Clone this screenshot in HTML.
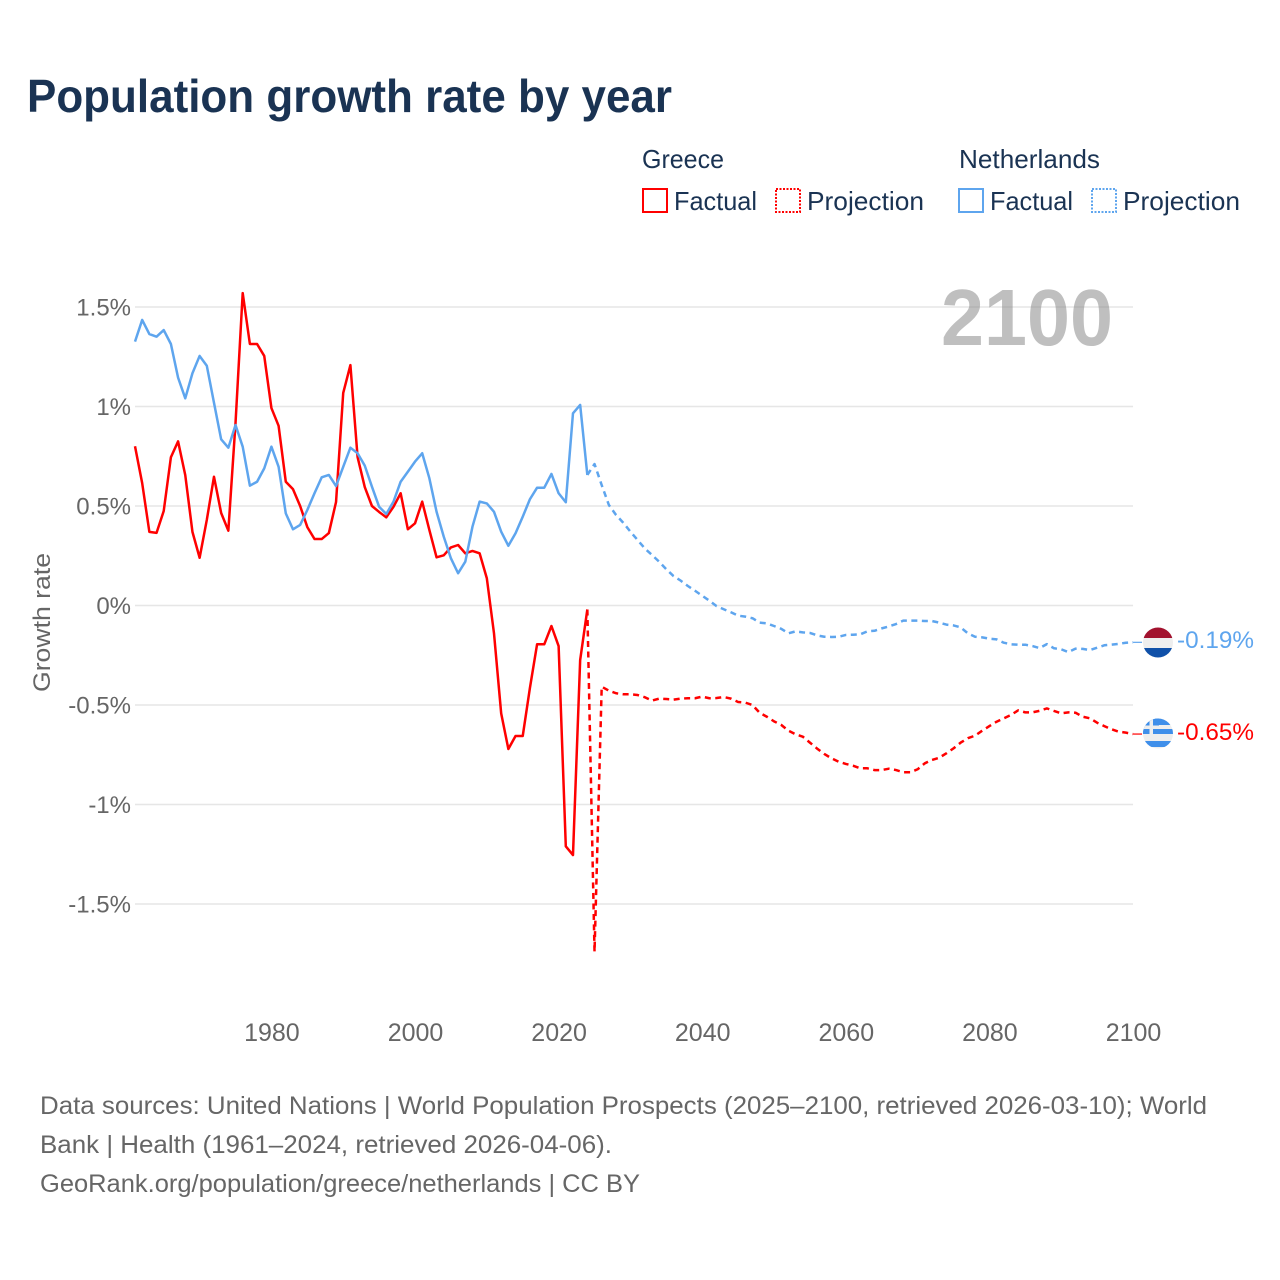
<!DOCTYPE html>
<html lang="en">
<head>
<meta charset="utf-8">
<title>Population growth rate by year</title>
<style>
html,body{margin:0;padding:0;background:#fff;}
svg{display:block;font-family:"Liberation Sans",sans-serif;}
</style>
</head>
<body>
<svg id="chart" xmlns="http://www.w3.org/2000/svg" width="1280" height="1280" viewBox="0 0 1280 1280">
  <rect x="0" y="0" width="1280" height="1280" fill="#ffffff"/>
  <text x="27" y="112" font-size="46" font-weight="700" fill="#1a3353" textLength="645" lengthAdjust="spacingAndGlyphs">Population growth rate by year</text>

  <g font-size="26" fill="#1a3353">
    <text x="642" y="168" textLength="82" lengthAdjust="spacingAndGlyphs">Greece</text>
    <text x="959" y="168" textLength="141" lengthAdjust="spacingAndGlyphs">Netherlands</text>
    <g>
      <rect x="643" y="189" width="24" height="23" fill="none" stroke="#ff0000" stroke-width="2"/>
      <text x="674" y="210" textLength="83" lengthAdjust="spacingAndGlyphs">Factual</text>
    </g>
    <g>
      <rect x="776" y="189" width="24" height="23" fill="none" stroke="#ff0000" stroke-width="2" stroke-dasharray="2 1.5"/>
      <text x="807" y="210" textLength="117" lengthAdjust="spacingAndGlyphs">Projection</text>
    </g>
    <g>
      <rect x="959" y="189" width="24" height="23" fill="none" stroke="#5ea5ee" stroke-width="2"/>
      <text x="990" y="210" textLength="83" lengthAdjust="spacingAndGlyphs">Factual</text>
    </g>
    <g>
      <rect x="1092" y="189" width="24" height="23" fill="none" stroke="#5ea5ee" stroke-width="2" stroke-dasharray="2 1.5"/>
      <text x="1123" y="210" textLength="117" lengthAdjust="spacingAndGlyphs">Projection</text>
    </g>
  </g>

  <g id="grid"></g>
  <g id="yticks" font-size="24" fill="#666666" text-anchor="end"></g>
  <g id="xticks" font-size="25" fill="#666666" text-anchor="middle"></g>
  <text transform="translate(50 692) rotate(-90)" font-size="24" fill="#666666" textLength="139" lengthAdjust="spacingAndGlyphs">Growth rate</text>
  <text x="941" y="345" font-size="80" font-weight="700" fill="#808080" fill-opacity="0.5" textLength="172" lengthAdjust="spacingAndGlyphs">2100</text>
  <g id="series"></g>

  <defs>
    <clipPath id="flag-nl-clip"><circle cx="1158" cy="642.5" r="15"/></clipPath>
    <clipPath id="flag-gr-clip"><circle cx="1158" cy="733.5" r="15"/></clipPath>
  </defs>
  <g clip-path="url(#flag-nl-clip)">
    <rect x="1143" y="627" width="30" height="11" fill="#a2122e"/>
    <rect x="1143" y="638" width="30" height="10" fill="#eeeeee"/>
    <rect x="1143" y="648" width="30" height="11" fill="#0f50a8"/>
  </g>
  <g clip-path="url(#flag-gr-clip)">
    <rect x="1143" y="718" width="30" height="31" fill="#eeeeee"/>
    <rect x="1143" y="718" width="30" height="7" fill="#3f8fea"/>
    <rect x="1143" y="729" width="30" height="5" fill="#3f8fea"/>
    <rect x="1143" y="741" width="30" height="6" fill="#3f8fea"/>
    <rect x="1143" y="718" width="16" height="16" fill="#3f8fea"/>
    <rect x="1143" y="725.5" width="16" height="3.5" fill="#eeeeee"/>
    <rect x="1149.5" y="718" width="3.5" height="16" fill="#eeeeee"/>
  </g>
  <text x="1177" y="648" font-size="24" fill="#5ea5ee" textLength="77" lengthAdjust="spacingAndGlyphs">-0.19%</text>
  <text x="1177" y="740" font-size="24" fill="#ff0000" textLength="77" lengthAdjust="spacingAndGlyphs">-0.65%</text>

  <g font-size="25" fill="#666666">
    <text x="40" y="1114" textLength="1167" lengthAdjust="spacingAndGlyphs">Data sources: United Nations | World Population Prospects (2025–2100, retrieved 2026-03-10); World</text>
    <text x="40" y="1153" textLength="572" lengthAdjust="spacingAndGlyphs">Bank | Health (1961–2024, retrieved 2026-04-06).</text>
    <text x="40" y="1192" textLength="600" lengthAdjust="spacingAndGlyphs">GeoRank.org/population/greece/netherlands | CC BY</text>
  </g>
</svg>
<script>
var yTickValues = [1.5, 1, 0.5, 0, -0.5, -1, -1.5];
var yTickLabels = ["1.5%", "1%", "0.5%", "0%", "-0.5%", "-1%", "-1.5%"];
var xTickYears = [1980, 2000, 2020, 2040, 2060, 2080, 2100];
var factualStartYear = 1961;
var projectionStartYear = 2024;

var greeceFactual = [0.80,0.615,0.37,0.365,0.475,0.745,0.825,0.655,0.37,0.24,0.43,0.647,0.465,0.376,0.917,1.57,1.314,1.314,1.254,0.992,0.903,0.622,0.585,0.50,0.394,0.334,0.334,0.364,0.52,1.068,1.208,0.746,0.595,0.50,0.47,0.443,0.496,0.564,0.383,0.413,0.522,0.379,0.242,0.252,0.292,0.304,0.262,0.274,0.262,0.137,-0.14,-0.542,-0.721,-0.656,-0.656,-0.415,-0.195,-0.195,-0.103,-0.204,-1.21,-1.254,-0.274,-0.02];
var netherlandsFactual = [1.326,1.435,1.364,1.351,1.384,1.314,1.145,1.041,1.167,1.254,1.205,1.019,0.835,0.793,0.907,0.798,0.602,0.622,0.689,0.798,0.697,0.463,0.383,0.405,0.48,0.564,0.644,0.656,0.60,0.697,0.793,0.765,0.703,0.597,0.496,0.46,0.522,0.622,0.672,0.723,0.765,0.639,0.471,0.346,0.237,0.162,0.22,0.396,0.522,0.513,0.471,0.371,0.30,0.363,0.446,0.534,0.592,0.592,0.661,0.564,0.519,0.966,1.008,0.656];
var greeceProjection = [-0.02,-1.74,-0.408,-0.428,-0.441,-0.446,-0.446,-0.45,-0.461,-0.478,-0.468,-0.47,-0.473,-0.468,-0.466,-0.466,-0.458,-0.466,-0.465,-0.46,-0.468,-0.485,-0.488,-0.50,-0.539,-0.559,-0.582,-0.60,-0.629,-0.647,-0.659,-0.689,-0.719,-0.746,-0.768,-0.785,-0.796,-0.805,-0.818,-0.818,-0.827,-0.827,-0.82,-0.827,-0.838,-0.838,-0.823,-0.793,-0.776,-0.765,-0.743,-0.718,-0.689,-0.667,-0.654,-0.629,-0.606,-0.584,-0.567,-0.55,-0.527,-0.537,-0.537,-0.529,-0.517,-0.53,-0.542,-0.537,-0.539,-0.559,-0.567,-0.589,-0.606,-0.622,-0.634,-0.639,-0.646];
var netherlandsProjection = [0.656,0.711,0.605,0.505,0.455,0.416,0.371,0.329,0.287,0.254,0.22,0.182,0.148,0.125,0.098,0.074,0.049,0.024,-0.003,-0.019,-0.034,-0.051,-0.056,-0.064,-0.086,-0.09,-0.103,-0.117,-0.14,-0.13,-0.135,-0.138,-0.15,-0.157,-0.158,-0.157,-0.148,-0.147,-0.145,-0.13,-0.127,-0.115,-0.105,-0.093,-0.076,-0.076,-0.076,-0.078,-0.078,-0.086,-0.096,-0.10,-0.11,-0.14,-0.157,-0.16,-0.167,-0.17,-0.187,-0.195,-0.197,-0.197,-0.204,-0.214,-0.194,-0.215,-0.22,-0.234,-0.217,-0.218,-0.224,-0.212,-0.20,-0.197,-0.193,-0.187,-0.185];

var SVG_NS = "http://www.w3.org/2000/svg";
function xScale(year) { return 135 + (year - 1961) * 7.18; }
function yScale(value) { return 605.5 - value * 199; }

var gridGroup = document.getElementById("grid");
var yTickGroup = document.getElementById("yticks");
var xTickGroup = document.getElementById("xticks");
var seriesGroup = document.getElementById("series");

yTickValues.forEach(function (value, i) {
  var gridLine = document.createElementNS(SVG_NS, "line");
  
  
  gridLine.setAttribute("x1", 135);
  gridLine.setAttribute("x2", xScale(2100));
  gridLine.setAttribute("y1", yScale(value));
  gridLine.setAttribute("y2", yScale(value));
  gridLine.setAttribute("stroke", "#e6e6e6");
  gridLine.setAttribute("stroke-width", 1.5);
  gridGroup.appendChild(gridLine);

  var yLabel = document.createElementNS(SVG_NS, "text");
  
  
  yLabel.setAttribute("x", 131);
  yLabel.setAttribute("y", yScale(value) + 8.5);
  yLabel.textContent = yTickLabels[i];
  yTickGroup.appendChild(yLabel);
});

xTickYears.forEach(function (year) {
  var xLabel = document.createElementNS(SVG_NS, "text");
  
  
  xLabel.setAttribute("x", xScale(year) + 0.5);
  xLabel.setAttribute("y", 1041);
  xLabel.textContent = String(year);
  xTickGroup.appendChild(xLabel);
});

function buildPath(values, startYear) {
  return values.map(function (value, i) {
    return (i === 0 ? "M" : "L") + xScale(startYear + i).toFixed(2) + " " + yScale(value).toFixed(2);
  }).join(" ");
}

function drawSeries(values, startYear, colour, dashed, seriesName) {
  var line = document.createElementNS(SVG_NS, "path");
  
  
  line.setAttribute("d", buildPath(values, startYear));
  line.setAttribute("fill", "none");
  line.setAttribute("stroke", colour);
  line.setAttribute("stroke-width", 2.5);
  line.setAttribute("stroke-linejoin", "round");
  if (dashed) { line.setAttribute("stroke-dasharray", "6 4.5"); }
  seriesGroup.appendChild(line);
}

function drawConnector(lastValue, colour, connectorName) {
  var connector = document.createElementNS(SVG_NS, "line");
  
  
  connector.setAttribute("x1", xScale(2100));
  connector.setAttribute("x2", xScale(2100) + 9);
  connector.setAttribute("y1", yScale(lastValue));
  connector.setAttribute("y2", yScale(lastValue));
  connector.setAttribute("stroke", colour);
  connector.setAttribute("stroke-width", 1.2);
  seriesGroup.appendChild(connector);
}

drawSeries(greeceFactual, factualStartYear, "#ff0000", false, "line-greece-factual");
drawSeries(greeceProjection, projectionStartYear, "#ff0000", true, "line-greece-projection");
drawSeries(netherlandsFactual, factualStartYear, "#5ea5ee", false, "line-netherlands-factual");
drawSeries(netherlandsProjection, projectionStartYear, "#5ea5ee", true, "line-netherlands-projection");
drawConnector(greeceProjection[greeceProjection.length - 1], "#ff0000", "connector-greece");
drawConnector(netherlandsProjection[netherlandsProjection.length - 1], "#5ea5ee", "connector-netherlands");
</script>
</body>
</html>
